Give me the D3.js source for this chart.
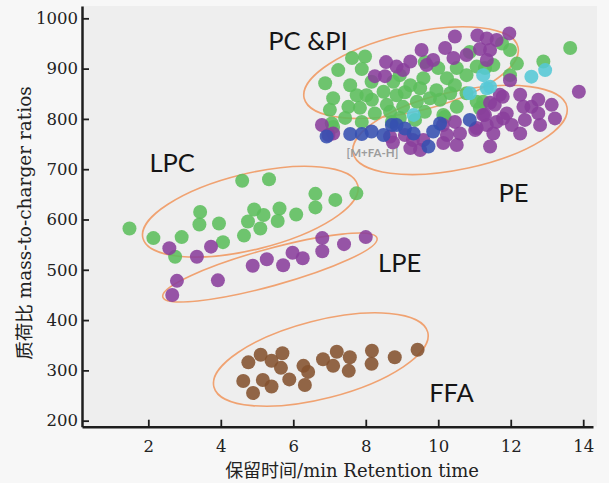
<!DOCTYPE html>
<html>
<head>
<meta charset="utf-8">
<script src="https://cdn.jsdelivr.net/npm/d3@7"></script>
<style>
  html, body { margin: 0; padding: 0; background: #f7f7f7; }
  svg { display: block; }
</style>
</head>
<body>
<div id="chart"></div>
<script>
//retention time (min), m/z
var xTicks = [2, 4, 6, 8, 10, 12, 14];
var yTicks = [200, 300, 400, 500, 600, 700, 800, 900, 1000];

var greenPts = [
  [1.48,582],[2.14,563],[2.92,565],[2.74,526],[3.43,615],[3.41,590],[3.95,592],[4.06,555],
  [4.59,677],[5.33,680],[4.92,620],[5.18,609],[4.75,596],[5.09,582],[4.64,568],[5.62,622],
  [5.57,597],[6.08,610],[6.61,651],[6.61,624],[7.16,639],[7.74,652],
  [7.62,921],[7.98,924],[7.24,897],[7.89,899],[6.88,871],[8.16,874],[7.10,841],[7.52,824],
  [7.75,847],[8.02,847],[7.06,791],[7.89,794],[8.25,811],[8.58,828],[8.49,854],[8.76,874],
  [10.87,933],[10.51,901],[10.0,901],[9.59,881],[10.24,881],[10.78,887],[11.06,904],[9.95,857],
  [9.23,867],[8.85,847],[9.41,834],[9.77,841],[10.33,851],[10.78,851],[10.51,824],[11.06,834],
  [9.03,824],[10.14,808],[11.98,937],[11.76,950],[12.17,910],[12.90,914],[13.64,941],[11.52,907],
  [11.98,887],[11.29,901],[11.24,834],[8.72,794],[7.57,867],[7.43,802],[8.17,838],[8.94,802],
  [9.36,798],[9.63,814],[8.67,814],[7.84,822],[9.08,853],[9.50,861],[10.46,867],[10.05,838],
  [8.94,887],[9.63,913],[7.01,818],[11.15,821],[7.10,784],[10.18,804]
];
var purplePts = [
  //LPC / LPE
  [2.58,543],[3.34,526],[3.73,546],[2.79,478],[2.66,450],[3.92,479],[4.88,508],[5.27,521],
  [5.72,509],[5.98,534],[6.26,523],[6.80,563],[6.80,537],[7.40,551],[8.00,565],
  //PC & PI region
  [8.25,885],[8.53,885],[8.56,913],[8.85,904],[10.46,964],[11.08,966],[10.19,941],[9.54,937],
  [10.78,927],[11.15,939],[9.23,914],[9.68,907],[9.03,897],[10.42,921],[9.86,917],[11.96,970],
  [11.34,960],[11.61,957],[11.43,937],[11.34,917],[11.98,877],[13.88,854],
  [6.79,788],[6.97,768],[7.10,771],
  //PE
  [10.46,794],[10.24,768],[10.60,771],[11.02,778],[11.34,788],[9.59,758],[10.14,752],[9.23,742],
  [9.50,738],[10.51,748],[11.24,808],[11.70,848],[12.26,848],[12.76,838],[13.13,828],[11.56,828],
  [11.89,811],[12.35,824],[12.57,824],[12.76,811],[13.22,801],[11.29,808],[11.61,794],[12.03,788],
  [12.39,798],[12.81,788],[11.52,771],[12.26,771],[11.43,745],[11.79,801],[8.75,753],[9.08,768],
  [9.30,758],[10.13,788],[11.06,782],[11.43,832],[11.78,844],[8.67,765]
];
var cyanPts = [
  [10.87,851],[11.24,887],[9.32,808],[11.34,861],[12.57,884],[12.95,897],[11.43,864]
];
var bluePts = [
  [7.57,770],[7.89,770],[8.16,775],[8.49,768],[8.72,788],[6.92,765],[8.85,788],[9.32,771],
  [9.86,775],[10.05,791],[10.87,798],[9.73,745],[9.08,781]
];
var brownPts = [
  [4.76,316],[5.10,331],[5.40,319],[5.70,334],[5.66,305],[4.62,279],[5.16,281],[4.89,255],
  [5.40,268],[5.89,282],[6.28,309],[6.41,297],[6.32,271],[6.82,322],[7.20,337],[7.10,309],
  [7.56,326],[7.53,299],[8.17,339],[8.16,313],[8.80,326],[9.43,341]
];

//group outlines: major axis ends (data units) + half minor axis (px)
var ellipses = [
  {x1: 6.30, y1: 841, x2: 12.20, y2: 943, b: 39},
  {x1: 7.65, y1: 732, x2: 13.55, y2: 824, b: 39},
  {x1: 1.85, y1: 563, x2: 7.78, y2: 668, b: 38},
  {x1: 2.40, y1: 446, x2: 8.31, y2: 563, b: 18.5},
  {x1: 3.81, y1: 267, x2: 9.71, y2: 376, b: 39}
];
var groupLabels = [
  {t: "PC &PI", x: 5.31, y: 938},
  {t: "LPC", x: 2.03, y: 695},
  {t: "PE", x: 11.66, y: 635},
  {t: "LPE", x: 8.34, y: 496},
  {t: "FFA", x: 9.75, y: 237}
];

var W = 609, H = 483;
var mLeft = 82, mRight = 593, mTop = 6, mBottom = 426.7;

var svg = d3.select("#chart").append("svg")
    .attr("width", W)
    .attr("height", H);

svg.append("rect")
    .attr("x", mLeft).attr("y", mTop)
    .attr("width", 597 - mLeft).attr("height", mBottom - mTop)
    .attr("fill", "#eeeeee");

var x = d3.scaleLinear().domain([0.17, 14.27]).range([mLeft, mRight]);
var y = d3.scaleLinear().domain([188, 1024.5]).range([mBottom, mTop]);

//ellipses
svg.append("g").selectAll("ellipse")
    .data(ellipses)
    .enter()
    .append("ellipse")
    .attr("transform", function(d){
        var px1 = x(d.x1), py1 = y(d.y1), px2 = x(d.x2), py2 = y(d.y2);
        var ang = Math.atan2(py2 - py1, px2 - px1) * 180 / Math.PI;
        return "translate(" + ((px1 + px2) / 2) + "," + ((py1 + py2) / 2) + ") rotate(" + ang + ")";
    })
    .attr("rx", function(d){ return Math.hypot(x(d.x2) - x(d.x1), y(d.y2) - y(d.y1)) / 2; })
    .attr("ry", function(d){ return d.b; })
    .attr("fill", "none")
    .attr("stroke", "#f0a271")
    .attr("stroke-width", 1.6);

//points
var series = [
    {pts: greenPts, c: "#5cbe5c"},
    {pts: purplePts, c: "#8a3f9c"},
    {pts: cyanPts, c: "#55c8d6"},
    {pts: bluePts, c: "#3550b0"},
    {pts: brownPts, c: "#84522f"}
];
series.forEach(function(s){
    svg.append("g").selectAll("circle")
        .data(s.pts)
        .enter()
        .append("circle")
        .attr("cx", function(d){ return x(d[0]); })
        .attr("cy", function(d){ return y(d[1]); })
        .attr("r", 7)
        .attr("fill", s.c)
        .attr("fill-opacity", 0.88);
});

//labels
svg.append("g").selectAll("text")
    .data(groupLabels)
    .enter()
    .append("text")
    .attr("x", function(d){ return x(d.x); })
    .attr("y", function(d){ return y(d.y); })
    .attr("font-family", "Lato, 'Open Sans', sans-serif")
    .attr("font-size", 25.5)
    .attr("fill", "#151515")
    .text(function(d){ return d.t; });

svg.append("text")
    .attr("x", x(7.47))
    .attr("y", y(725))
    .attr("font-family", "Lato, 'Open Sans', sans-serif")
    .attr("font-size", 11.5)
    .attr("font-weight", "bold")
    .attr("fill", "#9c9c9c")
    .text("[M+FA-H]");

//axes
var xAxis = svg.append("g")
    .attr("transform", "translate(0," + mBottom + ")")
    .call(d3.axisBottom(x).tickValues(xTicks).tickSizeInner(-7).tickSizeOuter(0).tickPadding(14));
var yAxis = svg.append("g")
    .attr("transform", "translate(" + mLeft + ",0)")
    .call(d3.axisLeft(y).tickValues(yTicks).tickFormat(d3.format("d")).tickSizeInner(-7).tickSizeOuter(0).tickPadding(4));

[xAxis, yAxis].forEach(function(a){
    a.select(".domain").attr("stroke", "#1e1e1e").attr("stroke-width", 2.5);
    a.selectAll(".tick line").attr("stroke", "#1e1e1e").attr("stroke-width", 1.8);
    a.selectAll(".tick text")
        .attr("font-family", "'DejaVu Serif', serif")
        .attr("font-size", 16.5)
        .attr("fill", "#222");
});

//axis titles
svg.append("text")
    .attr("x", 352)
    .attr("y", 477)
    .attr("text-anchor", "middle")
    .attr("font-family", "'DejaVu Serif', 'Noto Sans CJK SC', serif")
    .attr("font-size", 18)
    .attr("fill", "#222")
    .text("保留时间/min Retention time");

svg.append("text")
    .attr("transform", "translate(31,223) rotate(-90)")
    .attr("text-anchor", "middle")
    .attr("font-family", "'DejaVu Serif', 'Noto Sans CJK SC', serif")
    .attr("font-size", 18.5)
    .attr("fill", "#222")
    .text("质荷比 mass-to-charger ratios");
</script>
</body>
</html>
